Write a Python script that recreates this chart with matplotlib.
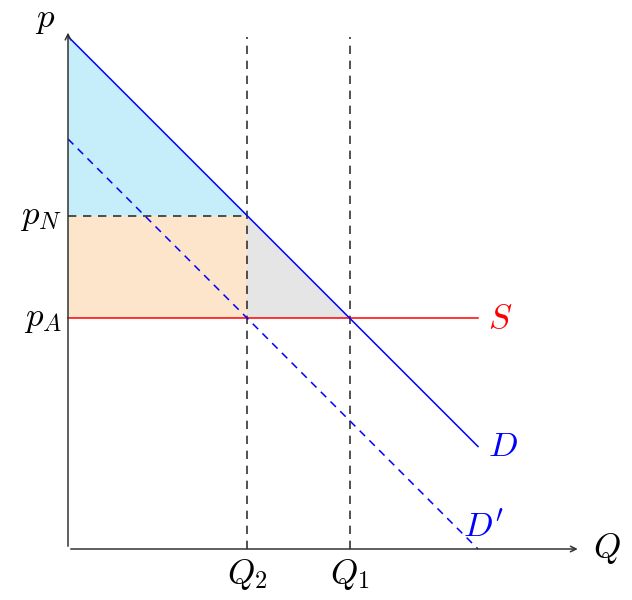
import matplotlib
matplotlib.use('Agg')
from matplotlib import pyplot as plt

plt.rcParams['mathtext.fontset'] = 'cm'

# model values (units of the diagram)
q_line = [0, 8]
demand = [10, 2]        # D: p = 10 - Q
demand_new = [8, 0]     # D': p = 8 - Q
p_A = 4.5
p_N = 6.5
Q2 = 3.5
Q1 = 5.5
p_max = 10

fig = plt.figure(figsize=(6.32, 6.0), dpi=100)
ax = fig.add_axes([0, 0, 1, 1])
px = 51.25
ax.set_xlim(-68 / px, (632 - 68) / px)
ax.set_ylim(-51 / px, 549 / px)
ax.axis('off')

# shaded areas
ax.fill([0, Q2, 0], [p_max, p_N, p_N], color='#c6eefa', lw=0)
ax.fill([0, Q2, Q2, 0], [p_N, p_N, p_A, p_A], color='#fde5cc', lw=0)
ax.fill([Q2, Q2, Q1], [p_N, p_A, p_A], color='#e5e5e5', lw=0)

# axes with arrows
ax.annotate('', xy=(0, 10.13), xytext=(0, 0),
            arrowprops=dict(arrowstyle='->', color='#333333', lw=1.1))
ax.annotate('', xy=(10.0, 0), xytext=(0, 0),
            arrowprops=dict(arrowstyle='->', color='#333333', lw=1.1))

# dashed guides
ax.plot([Q2, Q2], [0, p_max], '--', color='#333333', lw=1.2, dashes=(5, 4))
ax.plot([Q1, Q1], [0, p_max], '--', color='#333333', lw=1.2, dashes=(5, 4))
ax.plot([0, Q2], [p_N, p_N], '--', color='#333333', lw=1.2, dashes=(5, 4))

# curves
ax.plot([0, 8], [p_A, p_A], color='#ff0000', lw=1.1)
ax.plot(q_line, demand, color='#0000ff', lw=1.1)
ax.plot(q_line, demand_new, '--', color='#0000ff', lw=1.1, dashes=(5, 4))

fs = 25
ax.text(-0.45, 10.35, '$p$', fontsize=fs, ha='center', va='center')
ax.text(-0.12, p_N, '$p_N$', fontsize=fs, ha='right', va='center')
ax.text(-0.12, p_A, '$p_A$', fontsize=fs, ha='right', va='center')
ax.text(Q2, -0.15, '$Q_2$', fontsize=fs, ha='center', va='top')
ax.text(Q1, -0.15, '$Q_1$', fontsize=fs, ha='center', va='top')
ax.text(10.25, 0, '$Q$', fontsize=fs, ha='left', va='center')
ax.text(8.2, p_A, '$S$', fontsize=fs, ha='left', va='center', color='#ff0000')
ax.text(8.2, 2, '$D$', fontsize=fs, ha='left', va='center', color='#0000ff')
ax.text(8.1, 0.45, "$D'$", fontsize=fs, ha='center', va='center', color='#0000ff')

fig.savefig('out.png', dpi=100)
